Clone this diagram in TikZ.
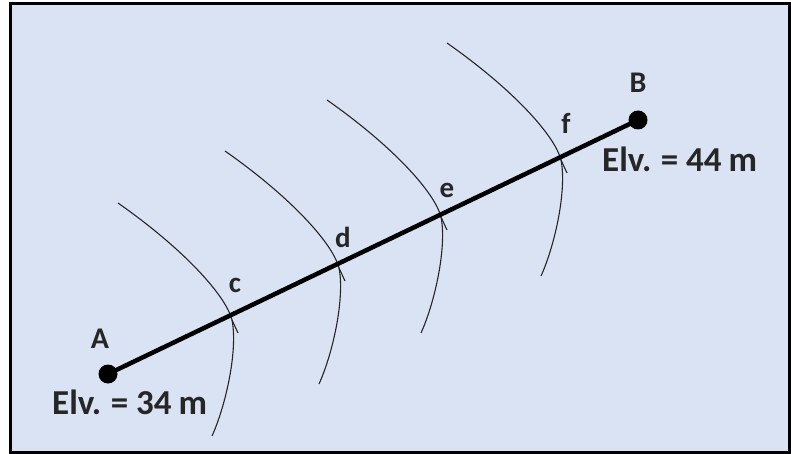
\documentclass[tikz,border=0pt]{standalone}
\usepackage{fontspec}
\setmainfont{Carlito}
\definecolor{bg}{RGB}{218,227,243}
\tikzset{
  contour/.style={line width=1.1pt, draw=black!85},
  lbl/.style={font=\fontsize{29}{30}\selectfont\bfseries, text=black!85, inner sep=0pt, anchor=base},
  ptlabel/.style={font=\fontsize{30}{32}\selectfont\bfseries, text=black!85, inner sep=0pt, anchor=base},
  elv/.style={font=\fontsize{35}{36}\selectfont\bfseries, text=black!85, inner sep=0pt, anchor=base west},
  dotnode/.style={circle, fill=black, minimum size=19pt, inner sep=0pt},
}
\begin{document}
\begin{tikzpicture}[x=1pt,y=-1pt]
\useasboundingbox (0,0) rectangle (791,454);
\fill[white] (0,0) rectangle (791,454);
\draw[line width=3pt, fill=bg] (10,3.5) rectangle (789.5,452);
% contour lines
\foreach \dx/\dy/\nm in {0/0/c, 107/-52/d, 209/-103/e, 329/-160/f}{
  \begin{scope}[shift={(\dx,\dy)}]
    \draw[contour] (118,203) .. controls (185,250) and (226,296) .. (232,320)
       .. controls (238,350) and (226,405) .. (212,436);
    \draw[contour] (232,320) -- (238,333);
  \end{scope}
}
\node[dotnode] (A) at (108,374) {};
\node[dotnode] (B) at (638,120) {};
\draw[line width=4.5pt] (A.center) -- (B.center);
\node[ptlabel] (lA) at (100,348) {A};
\node[ptlabel] (lB) at (638,93) {B};
\node[lbl] (lc) at (235,292) {c};
\node[lbl] (ld) at (343,247) {d};
\node[lbl] (le) at (447,197) {e};
\node[lbl] (lf) at (566,134) {f};
\node[elv] (eA) at (52,414) {Elv.\kern-1pt{} = 34\kern-1pt{} m};
\node[elv] (eB) at (602,172) {Elv.\kern-1pt{} = 44\kern-1pt{} m};
\end{tikzpicture}
\end{document}
